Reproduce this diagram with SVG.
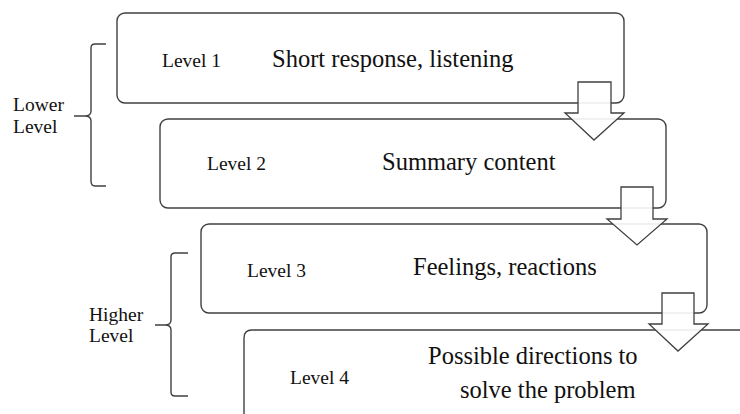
<svg xmlns="http://www.w3.org/2000/svg" width="740" height="414" viewBox="0 0 740 414" font-family="Liberation Serif">
<style>
.box{fill:none;stroke:#404040;stroke-width:1.4}
.arr{fill:#fff;fill-opacity:0.9;stroke:#404040;stroke-width:1.3;stroke-linejoin:miter}
.br{fill:none;stroke:#404040;stroke-width:1.4}
.sm{font-size:19.5px;fill:#111}
.lg{font-size:24.5px;fill:#111}
</style>
<rect width="740" height="414" fill="#fff"/>
<g id="brace-lower">
<path class="br" d="M106,44 H95 Q91,44 91,48 V111 Q91,116 85,116 H74 M85,116 Q91,116 91,121 V181 Q91,186 95,186 H106"/>
<text class="sm" x="13" y="111" font-family="Liberation Serif">Lower</text>
<text class="sm" x="13" y="133" font-family="Liberation Serif">Level</text>
</g>
<g id="brace-higher">
<path class="br" d="M188,253 H175 Q171,253 171,257 V320 Q171,325 165,325 H155 M165,325 Q171,325 171,330 V392 Q171,396 175,396 H188"/>
<text class="sm" x="89" y="321" font-family="Liberation Serif">Higher</text>
<text class="sm" x="89" y="342" font-family="Liberation Serif">Level</text>
</g>
<g id="level1">
<rect class="box" x="117" y="13" width="507" height="90" rx="8"/>
<text class="sm" x="162" y="67" font-family="Liberation Serif">Level 1</text>
<text class="lg" x="272" y="67" font-family="Liberation Serif">Short response, listening</text>
</g>
<g id="level2">
<rect class="box" x="160" y="119" width="506" height="89" rx="8"/>
<text class="sm" x="207" y="170" font-family="Liberation Serif">Level 2</text>
<text class="lg" x="382" y="170" font-family="Liberation Serif">Summary content</text>
</g>
<g id="level3">
<rect class="box" x="201" y="224" width="506" height="89" rx="8"/>
<text class="sm" x="247" y="277" font-family="Liberation Serif">Level 3</text>
<text class="lg" x="413" y="275" font-family="Liberation Serif">Feelings, reactions</text>
</g>
<g id="level4">
<path class="box" d="M740,330 H252 Q244,330 244,338 V420"/>
<text class="sm" x="290" y="384" font-family="Liberation Serif">Level 4</text>
<text class="lg" x="428" y="364" font-family="Liberation Serif">Possible directions to</text>
<text class="lg" x="460" y="398" font-family="Liberation Serif">solve the problem</text>
</g>
<g id="connectors">
<path class="arr" d="M578,82 H611 V113 H624 L594,140 L565,113 H578 Z"/>
<path class="arr" d="M621,187 H653 V219 H667 L637,245 L607,219 H621 Z"/>
<path class="arr" d="M662,293 H694 V324 H708 L678,351 L649,324 H662 Z"/>
</g>
</svg>
